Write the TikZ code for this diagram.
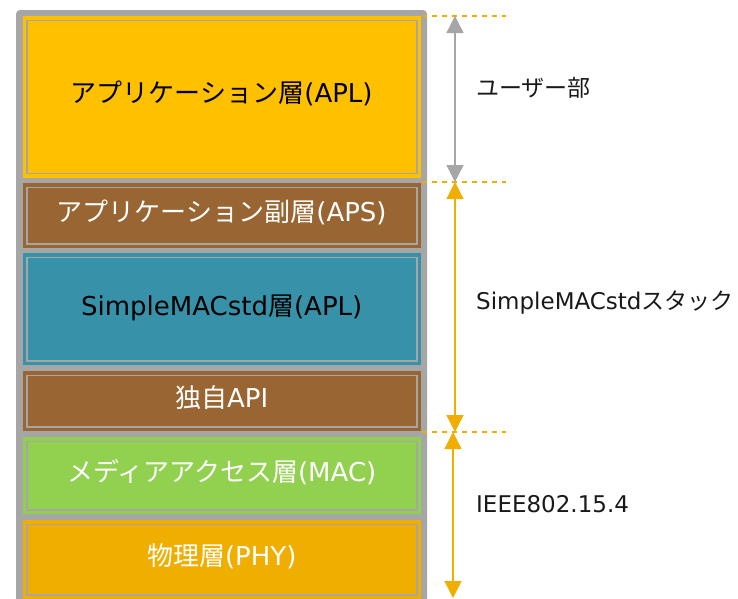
\documentclass[tikz,border=0pt]{standalone}
\usepackage{fontspec}
\setmainfont{DejaVu Sans}
\newfontfamily\jp{Noto Sans CJK JP}
\usetikzlibrary{arrows.meta}

\definecolor{bggray}{HTML}{A6A6A6}
\definecolor{aplyellow}{HTML}{FFC000}
\definecolor{apsbrown}{HTML}{996633}
\definecolor{smacblue}{HTML}{3792A9}
\definecolor{macgreen}{HTML}{92D050}
\definecolor{phyorange}{HTML}{EFAE00}

\begin{document}
\begin{tikzpicture}[
        x=1pt, y=-1pt,
        every node/.style={
        font=\fontsize{23}{27}\selectfont,
        inner sep=0pt,
        },
        layer/.style={
        draw=#1,
        fill=#1,
        double=bggray,
        line width=3.5pt,
        double distance=1.5pt,
        minimum width=390pt,
        text height=20pt,
        text depth=8pt,
        text=white,
        font=\fontsize{26}{30}\selectfont,
        },
        span/.style={
        draw=#1,
        line width=1.3pt,
        {Triangle[length=17pt,width=17pt]}-{Triangle[length=17pt,width=17pt]},
        },
        guide/.style={
        draw=phyorange,
        line width=1.3pt,
        dash pattern=on 5pt off 5pt,
        },
        tag/.style={anchor=west, text=black!90},
      ]
        \useasboundingbox (0, 0) rectangle (738, 598);
        \fill[bggray, rounded corners=4pt] (16, 10) rectangle (427, 620);

        \node[layer=aplyellow, minimum height=153pt, text=black] (apl) at (221.75, 96.75) {{\jp アプリケーション層}(APL)};
        \node[layer=apsbrown, minimum height=56.5pt] (aps) at (221.75, 215.5) {{\jp アプリケーション副層}(APS)};
        \node[layer=smacblue, minimum height=103.5pt, text=black] (smac) at (221.75, 309) {SimpleMACstd{\jp 層}(APL)};
        \node[layer=apsbrown, minimum height=51.5pt] (api) at (221.75, 401) {{\jp 独自}API};
        \node[layer=macgreen, minimum height=68.5pt] (mac) at (221.75, 475.5) {{\jp メディアアクセス層}(MAC)};
        \node[layer=phyorange, minimum height=70.5pt] (phy) at (221.75, 559.5) {{\jp 物理層}(PHY)};

        \coordinate (g0) at (422, 16);
        \coordinate (g1) at (422, 182);
        \coordinate (g2) at (422, 432);
        \coordinate (h0) at (506, 16);
        \coordinate (h1) at (506, 182);
        \coordinate (h2) at (506, 432);
        \draw[guide] (g0) -- (h0);
        \draw[guide] (g1) -- (h1);
        \draw[guide] (g2) -- (h2);

        \coordinate (t0) at (455, 16);
        \coordinate (t1) at (455, 182);
        \coordinate (t2) at (455, 432);
        \coordinate (t3) at (453, 598);
        \draw[span=bggray] (t0) -- (t1);
        \draw[span=phyorange] (t1) -- (t2);
        \draw[span=phyorange] (t2 -| t3) -- (t3);

        \node[tag] (user) at (476, 88) {{\jp ユーザー部}};
        \node[tag] (stack) at (476, 303) {SimpleMACstd{\jp スタック}};
        \node[tag] (ieee) at (476, 504) {IEEE802.15.4};
      \end{tikzpicture}
\end{document}
